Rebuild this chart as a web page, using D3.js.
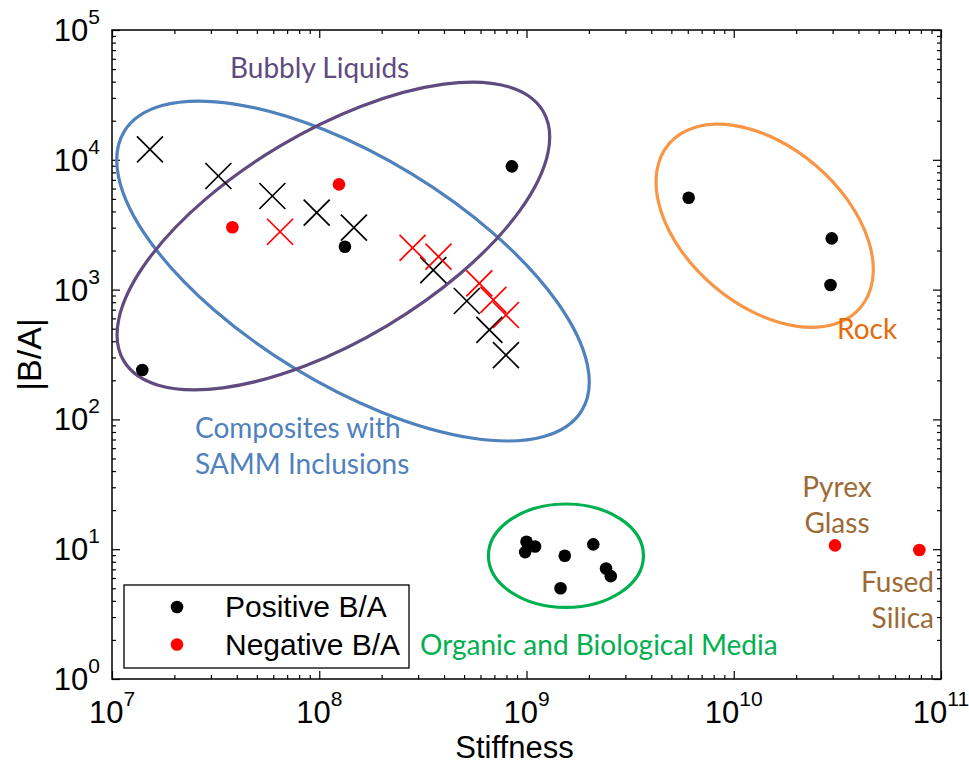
<!DOCTYPE html>
<html>
<head>
<meta charset="utf-8">
<script src="https://cdn.jsdelivr.net/npm/d3@7/dist/d3.min.js"></script>
<style>
  html, body { margin: 0; padding: 0; background: #fff; }
  svg { display: block; }
</style>
</head>
<body>
<svg id="chart" width="969" height="770"></svg>
<script>
// ---- data ----------------------------------------------------------------
// Stiffness (Pa) and |B/A| for each material, split by sign of B/A and marker type.
const positiveDots = [
  [1.40e7, 240], [8.5e8, 8900], [1.33e8, 2140],
  [6.06e9, 5100], [2.97e10, 2480], [2.93e10, 1085],
  [1.00e9, 11.4], [1.10e9, 10.5], [9.85e8, 9.5], [1.53e9, 8.9],
  [2.10e9, 10.9], [2.42e9, 7.1], [2.55e9, 6.2], [1.46e9, 5.0]
];
const negativeDots = [
  [3.81e7, 3020], [1.245e8, 6470], [3.08e10, 10.7], [7.86e10, 9.86]
];
const positiveCrosses = [
  [1.525e7, 12050], [3.26e7, 7500], [5.94e7, 5260], [9.72e7, 3915],
  [1.47e8, 3000], [3.55e8, 1415], [5.15e8, 817], [6.62e8, 489], [7.96e8, 313]
];
const negativeCrosses = [
  [6.47e7, 2790], [2.82e8, 2100], [3.76e8, 1795], [5.92e8, 1117],
  [6.92e8, 832], [7.96e8, 637]
];
// Material-group outlines: centre in data units
const groups = [
  { name: "composites", cx: 1.455e8, cy: 1390, color: "#4f81bd" },
  { name: "bubbly",     cx: 1.17e8,  cy: 2590, color: "#5f4b7f" },
  { name: "rock",       cx: 1.41e10, cy: 3105, color: "#f79646" },
  { name: "organic",    cx: 1.55e9,  cy: 8.91, color: "#00b050" }
];
// Outline shape (pixels): semi-axes and rotation
const groupShape = {
  composites: { a: 268, b: 113.5, rot: 31.4 },
  bubbly:     { a: 244, b: 104.6, rot: -30.8 },
  rock:       { a: 126, b: 79,    rot: 40.6 },
  organic:    { a: 77.5, b: 51.7, rot: 0 }
};
const xTickExps = [7, 8, 9, 10, 11];
const yTickExps = [0, 1, 2, 3, 4, 5];

// ---- layout ---------------------------------------------------------------
const svg = d3.select("#chart");
const L = 112, R = 941, T = 30, B = 679;
const x = d3.scaleLog().domain([1e7, 1e11]).range([L, R]);
const y = d3.scaleLog().domain([1, 1e5]).range([B, T]);

const majorX = xTickExps.map(e => Math.pow(10, e));
const majorY = yTickExps.map(e => Math.pow(10, e));
function minors(exps) {
  const out = [];
  for (let i = 0; i < exps.length - 1; i++)
    for (let k = 2; k <= 9; k++) out.push(k * Math.pow(10, exps[i]));
  return out;
}
const minorX = minors(xTickExps);
const minorY = minors(yTickExps);

const axisFont = "'Liberation Sans', Arial, Helvetica, sans-serif";
const noteFont = "Lato, 'Open Sans', sans-serif";

// ---- axes (ticks on all four sides, pointing inward) -----------------------
function styleAxis(g) {
  g.select(".domain").remove();
  g.selectAll(".tick line").attr("stroke", "#000").attr("stroke-width", 1.2);
  g.selectAll(".tick text").remove();
}
const axes = svg.append("g");
axes.append("g").attr("transform", `translate(0,${B})`)
  .call(d3.axisBottom(x).tickValues(majorX).tickSize(-8)).call(styleAxis);
axes.append("g").attr("transform", `translate(0,${B})`)
  .call(d3.axisBottom(x).tickValues(minorX).tickSize(-4)).call(styleAxis);
axes.append("g").attr("transform", `translate(0,${T})`)
  .call(d3.axisTop(x).tickValues(majorX).tickSize(-8)).call(styleAxis);
axes.append("g").attr("transform", `translate(0,${T})`)
  .call(d3.axisTop(x).tickValues(minorX).tickSize(-4)).call(styleAxis);
axes.append("g").attr("transform", `translate(${L},0)`)
  .call(d3.axisLeft(y).tickValues(majorY).tickSize(-8)).call(styleAxis);
axes.append("g").attr("transform", `translate(${L},0)`)
  .call(d3.axisLeft(y).tickValues(minorY).tickSize(-4)).call(styleAxis);
axes.append("g").attr("transform", `translate(${R},0)`)
  .call(d3.axisRight(y).tickValues(majorY).tickSize(-8)).call(styleAxis);
axes.append("g").attr("transform", `translate(${R},0)`)
  .call(d3.axisRight(y).tickValues(minorY).tickSize(-4)).call(styleAxis);

svg.append("rect")
  .attr("x", L).attr("y", T).attr("width", R - L).attr("height", B - T)
  .attr("fill", "none").attr("stroke", "#000").attr("stroke-width", 1.5);

// power-of-ten tick labels
function powerLabel(sel, exp) {
  sel.append("tspan").text("10");
  sel.append("tspan").attr("dy", -17).attr("font-size", 21).text(exp);
}
xTickExps.forEach(e => {
  svg.append("text")
    .attr("x", x(Math.pow(10, e))).attr("y", B + 44)
    .attr("text-anchor", "middle")
    .attr("font-family", axisFont).attr("font-size", 31).attr("fill", "#000")
    .call(powerLabel, e);
});
yTickExps.forEach(e => {
  svg.append("text")
    .attr("x", L - 12).attr("y", y(Math.pow(10, e)) + 11)
    .attr("text-anchor", "end")
    .attr("font-family", axisFont).attr("font-size", 31).attr("fill", "#000")
    .call(powerLabel, e);
});

svg.append("text")
  .attr("x", (L + R) / 2 - 12).attr("y", 758)
  .attr("text-anchor", "middle")
  .attr("font-family", axisFont).attr("font-size", 31).attr("fill", "#000")
  .text("Stiffness");
svg.append("text")
  .attr("transform", `translate(41,${(T + B) / 2}) rotate(-90)`)
  .attr("text-anchor", "middle")
  .attr("font-family", axisFont).attr("font-size", 34).attr("fill", "#000")
  .text("|B/A|");

// ---- group outlines --------------------------------------------------------
const plot = svg.append("g");
plot.selectAll("ellipse.group").data(groups).join("ellipse")
  .attr("class", "group")
  .attr("transform", d => `translate(${x(d.cx)},${y(d.cy)}) rotate(${groupShape[d.name].rot})`)
  .attr("rx", d => groupShape[d.name].a)
  .attr("ry", d => groupShape[d.name].b)
  .attr("fill", "none")
  .attr("stroke", d => d.color)
  .attr("stroke-width", 3.2);

// ---- markers ---------------------------------------------------------------
const crossHalf = 13;
function drawCrosses(data, color) {
  const g = plot.append("g").attr("stroke", color).attr("stroke-width", 1.7);
  data.forEach(([sx, ba]) => {
    const px = x(sx), py = y(ba);
    g.append("line").attr("x1", px - crossHalf).attr("y1", py - crossHalf)
      .attr("x2", px + crossHalf).attr("y2", py + crossHalf);
    g.append("line").attr("x1", px - crossHalf).attr("y1", py + crossHalf)
      .attr("x2", px + crossHalf).attr("y2", py - crossHalf);
  });
}
drawCrosses(positiveCrosses, "#000");
drawCrosses(negativeCrosses, "#ff0000");

function drawDots(data, color) {
  plot.append("g").selectAll("circle").data(data).join("circle")
    .attr("cx", d => x(d[0])).attr("cy", d => y(d[1]))
    .attr("r", 6.3).attr("fill", color);
}
drawDots(positiveDots, "#000");
drawDots(negativeDots, "#ff0000");

// ---- group annotations -----------------------------------------------------
const notes = [
  { lines: ["Bubbly Liquids"], x: 230, y: 78, anchor: "start", color: "#5f4b7f" },
  { lines: ["Composites with", "SAMM Inclusions"], x: 195, y: 438, anchor: "start", color: "#4f81bd" },
  { lines: ["Rock"], x: 837, y: 339, anchor: "start", color: "#e46c0a" },
  { lines: ["Organic and Biological Media"], x: 420, y: 655, anchor: "start", color: "#00b050" },
  { lines: ["Pyrex", "Glass"], x: 837, y: 497, anchor: "middle", color: "#9c6a35" },
  { lines: ["Fused", "Silica"], x: 934, y: 592, anchor: "end", color: "#9c6a35" }
];
notes.forEach(n => {
  const t = svg.append("text")
    .attr("font-family", noteFont).attr("font-size", 28)
    .attr("fill", n.color).attr("text-anchor", n.anchor);
  n.lines.forEach((s, i) => {
    t.append("tspan").attr("x", n.x).attr("y", n.y + i * 35.5).text(s);
  });
});

// ---- legend ----------------------------------------------------------------
const legend = svg.append("g");
legend.append("rect")
  .attr("x", 124).attr("y", 585).attr("width", 285).attr("height", 83)
  .attr("fill", "#fff").attr("stroke", "#000").attr("stroke-width", 1.3);
const legendItems = [
  { label: "Positive B/A", color: "#000" },
  { label: "Negative B/A", color: "#ff0000" }
];
legendItems.forEach((d, i) => {
  const cy = 607 + i * 37.5;
  legend.append("circle").attr("cx", 177).attr("cy", cy).attr("r", 6.3).attr("fill", d.color);
  legend.append("text")
    .attr("x", 225).attr("y", cy + 10)
    .attr("font-family", axisFont).attr("font-size", 30).attr("fill", "#000")
    .text(d.label);
});
</script>
</body>
</html>
